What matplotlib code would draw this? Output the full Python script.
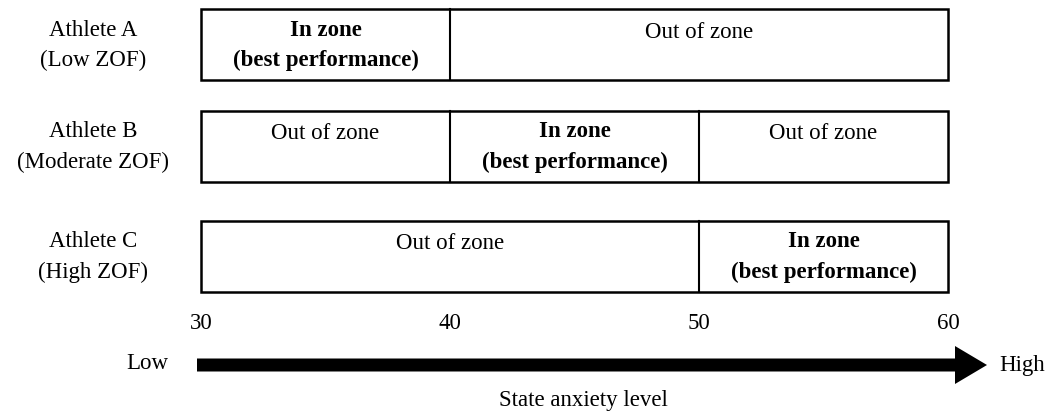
import matplotlib

matplotlib.use("Agg")
import matplotlib.pyplot as plt
from matplotlib.patches import Rectangle, FancyArrow

plt.rcParams["font.family"] = ["Liberation Serif", "DejaVu Serif"]

# data
athletes = ["Athlete A", "Athlete B", "Athlete C"]
zof_labels = ["(Low ZOF)", "(Moderate ZOF)", "(High ZOF)"]
zone_start = [30, 40, 50]
zone_end = [40, 50, 60]
scale_min, scale_max = 30, 60
tick_values = [30, 40, 50, 60]

# layout (pixel rows, top to bottom)
row_top = [10, 112, 222]
row_h = 71
FS = 16.5

fig = plt.figure(figsize=(10.54, 4.14), dpi=100)
ax = fig.add_axes([0, 0, 1, 1])
px = (948 - 201) / (scale_max - scale_min)
ax.set_xlim(scale_min - 201 / px, scale_max + (1054 - 948) / px)
ax.set_ylim(414, 0)
ax.axis("off")

for i, name in enumerate(athletes):
    top = row_top[i]
    ax.add_patch(Rectangle((scale_min, top), scale_max - scale_min, row_h,
                           fill=False, ec="black", lw=1.8))
    # zone dividers
    for b in (zone_start[i], zone_end[i]):
        if scale_min < b < scale_max:
            ax.plot([b, b], [top, top + row_h], color="black", lw=1.5)
    # in zone text
    zc = (zone_start[i] + zone_end[i]) / 2
    ax.text(zc, top + 20, "In zone", ha="center", va="center",
            fontsize=FS, fontweight="bold")
    ax.text(zc, top + 50, "(best performance)", ha="center", va="center",
            fontsize=FS, fontweight="bold")
    # out of zone segments
    segs = []
    if zone_start[i] > scale_min:
        segs.append((scale_min, zone_start[i]))
    if zone_end[i] < scale_max:
        segs.append((zone_end[i], scale_max))
    for a, b in segs:
        ax.text((a + b) / 2, top + 22, "Out of zone", ha="center",
                va="center", fontsize=FS)
    # athlete label
    lx = scale_min - 108 / px
    ax.text(lx, top + 20, name, ha="center", va="center", fontsize=FS)
    ax.text(lx, top + 50, zof_labels[i], ha="center", va="center", fontsize=FS)

for t in tick_values:
    ax.text(t, 324, str(t), ha="center", va="center", fontsize=FS)

# arrow
ax.add_patch(FancyArrow(scale_min - 4 / px, 366, (987 - 197) / px, 0,
                        width=13, head_width=38, head_length=32 / px,
                        length_includes_head=True, color="black", lw=0))
ax.text(scale_min - 54 / px, 364, "Low", ha="center", va="center", fontsize=FS)
ax.text(scale_max + 74 / px, 366, "High", ha="center", va="center", fontsize=FS)
ax.text((scale_min + scale_max) / 2 + 9 / px, 401, "State anxiety level",
        ha="center", va="center", fontsize=FS)

fig.savefig("out.png", dpi=100)
